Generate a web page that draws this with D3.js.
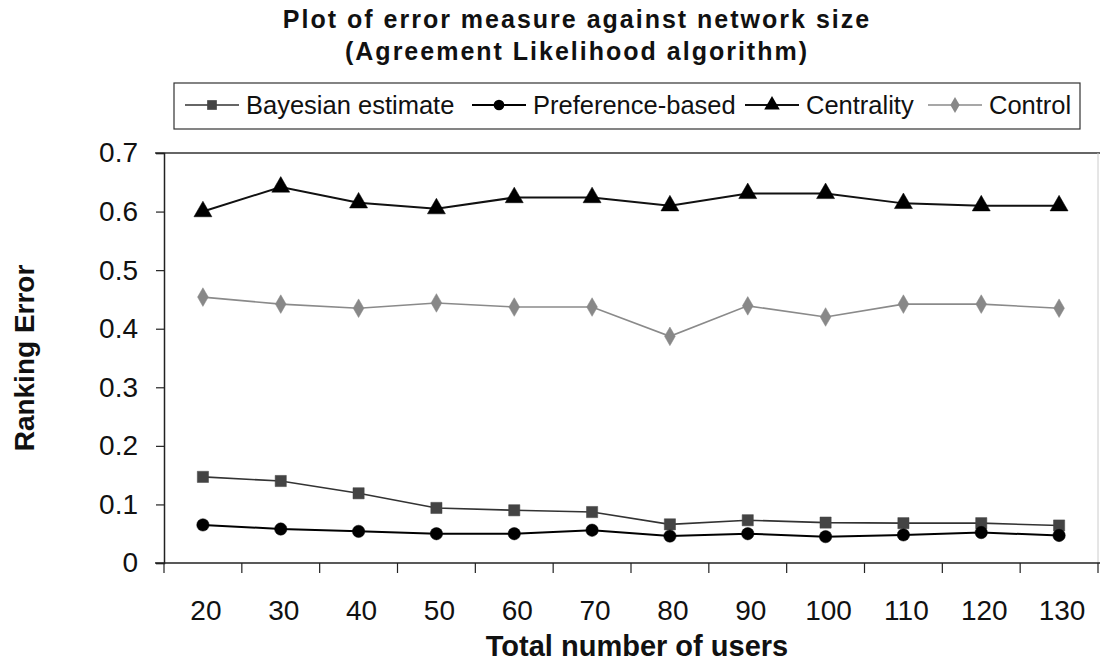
<!DOCTYPE html>
<html>
<head>
<meta charset="utf-8">
<script src="https://cdn.jsdelivr.net/npm/d3@7/dist/d3.min.js"></script>
<style>
  body { margin: 0; background: #fff; }
  svg { display: block; font-family: "Liberation Sans", Arial, Helvetica, sans-serif; }
</style>
</head>
<body>
<svg id="chart" width="1100" height="662"></svg>
<script>
// chart data
var users = [20, 30, 40, 50, 60, 70, 80, 90, 100, 110, 120, 130];
var bayesian   = [0.147, 0.140, 0.119, 0.094, 0.090, 0.087, 0.066, 0.073, 0.069, 0.068, 0.068, 0.064];
var preference = [0.065, 0.058, 0.054, 0.050, 0.050, 0.056, 0.046, 0.050, 0.045, 0.048, 0.052, 0.047];
var centrality = [0.600, 0.642, 0.615, 0.605, 0.624, 0.624, 0.610, 0.631, 0.631, 0.614, 0.610, 0.610];
var control    = [0.454, 0.442, 0.435, 0.444, 0.437, 0.437, 0.387, 0.439, 0.420, 0.442, 0.442, 0.435];
var yTicks = [0, 0.1, 0.2, 0.3, 0.4, 0.5, 0.6, 0.7];

var series = [
  { name: "Bayesian estimate", values: bayesian,   symbol: d3.symbolSquare,   size: 125, line: "#333", fill: "#444", width: 1.6 },
  { name: "Preference-based",  values: preference, symbol: d3.symbolCircle,   size: 120, line: "#000", fill: "#000", width: 2 },
  { name: "Centrality",        values: centrality, symbol: d3.symbolTriangle, size: 140, line: "#111", fill: "#000", width: 2 },
  { name: "Control",           values: control,    symbol: d3.symbolDiamond,  size: 100, line: "#8a8a8a", fill: "#888", width: 1.6 }
];

var svg = d3.select("#chart");
var plot = { left: 164, right: 1098, top: 153, bottom: 563 };

var x = d3.scaleBand().domain(users).range([plot.left, plot.right]);
var y = d3.scaleLinear().domain([0, 0.7]).range([plot.bottom, plot.top]);

// title
var title = svg.append("text")
  .attr("text-anchor", "middle")
  .style("font-size", "25px").style("font-weight", "bold").style("letter-spacing", "2px")
  .attr("fill", "#111");
title.append("tspan").attr("x", 577).attr("y", 28).text("Plot of error measure against network size");
title.append("tspan").attr("x", 577).attr("y", 60).text("(Agreement Likelihood algorithm)");

// plot frame: dark top, faint right
svg.append("line").attr("x1", 155).attr("x2", 1100).attr("y1", plot.top).attr("y2", plot.top)
  .attr("stroke", "#333").attr("stroke-width", 1.5);
svg.append("line").attr("x1", plot.right).attr("x2", plot.right).attr("y1", plot.top).attr("y2", plot.bottom)
  .attr("stroke", "#ccc").attr("stroke-width", 1);

// y axis
var yAxis = d3.axisLeft(y).tickValues(yTicks).tickSize(8).tickPadding(18)
  .tickFormat(function(d) { return d === 0 ? "0" : d3.format(".1f")(d); });
var gy = svg.append("g").attr("transform", "translate(" + plot.left + ",0)").call(yAxis);
gy.select(".domain").attr("stroke", "#222").attr("stroke-width", 1.5);
gy.selectAll(".tick line").attr("stroke", "#222").attr("stroke-width", 1.2);
gy.selectAll(".tick text").style("font-size", "28px").attr("fill", "#111");

// x axis: ticks between categories, labels centered
var gx = svg.append("g").attr("transform", "translate(0," + plot.bottom + ")");
gx.append("line").attr("x1", 155).attr("x2", 1100).attr("y1", 0).attr("y2", 0)
  .attr("stroke", "#222").attr("stroke-width", 1.5);
var bounds = users.map(function(u) { return x(u); }).concat([plot.right]);
gx.selectAll("line.tk").data(bounds).enter().append("line").attr("class", "tk")
  .attr("x1", function(d) { return d; }).attr("x2", function(d) { return d; })
  .attr("y1", 0).attr("y2", 10).attr("stroke", "#222").attr("stroke-width", 1.2);
gx.selectAll("text").data(users).enter().append("text")
  .attr("x", function(d) { return x(d) + x.bandwidth() / 2 + 3; })
  .attr("y", 57).attr("text-anchor", "middle")
  .style("font-size", "28px").attr("fill", "#111")
  .text(function(d) { return d; });

// axis titles
svg.append("text").attr("x", 637).attr("y", 656).attr("text-anchor", "middle")
  .style("font-size", "29px").style("font-weight", "bold").attr("fill", "#111")
  .text("Total number of users");
svg.append("text").attr("transform", "translate(34," + ((plot.top + plot.bottom) / 2) + ") rotate(-90)")
  .attr("text-anchor", "middle")
  .style("font-size", "28px").style("font-weight", "bold").attr("fill", "#111")
  .text("Ranking Error");

// lines and markers
var line = d3.line()
  .x(function(d, i) { return x(users[i]) + x.bandwidth() / 2; })
  .y(function(d) { return y(d); });

series.forEach(function(s) {
  svg.append("path").datum(s.values).attr("d", line)
    .attr("fill", "none").attr("stroke", s.line).attr("stroke-width", s.width);
  svg.selectAll(null).data(s.values).enter().append("path")
    .attr("d", d3.symbol().type(s.symbol).size(s.size))
    .attr("transform", function(d, i) {
      return "translate(" + (x(users[i]) + x.bandwidth() / 2) + "," + y(d) + ")";
    })
    .attr("fill", s.fill).attr("stroke", s.fill).attr("stroke-width", 0.5);
});

// legend
var legend = svg.append("g");
legend.append("rect").attr("x", 174).attr("y", 83).attr("width", 906).attr("height", 46)
  .attr("fill", "#fff").attr("stroke", "#333").attr("stroke-width", 1.2);
var legendX = [185, 472, 745, 928];
series.forEach(function(s, i) {
  var g = legend.append("g").attr("transform", "translate(" + legendX[i] + ",105)");
  g.append("line").attr("x1", 0).attr("x2", 54).attr("y1", 0).attr("y2", 0)
    .attr("stroke", s.line).attr("stroke-width", s.width);
  g.append("path").attr("d", d3.symbol().type(s.symbol).size(s.size * 0.75))
    .attr("transform", "translate(27,0)").attr("fill", s.fill);
  g.append("text").attr("x", 61).attr("y", 9)
    .style("font-size", "25.5px").attr("fill", "#111").text(s.name);
});
</script>
</body>
</html>
